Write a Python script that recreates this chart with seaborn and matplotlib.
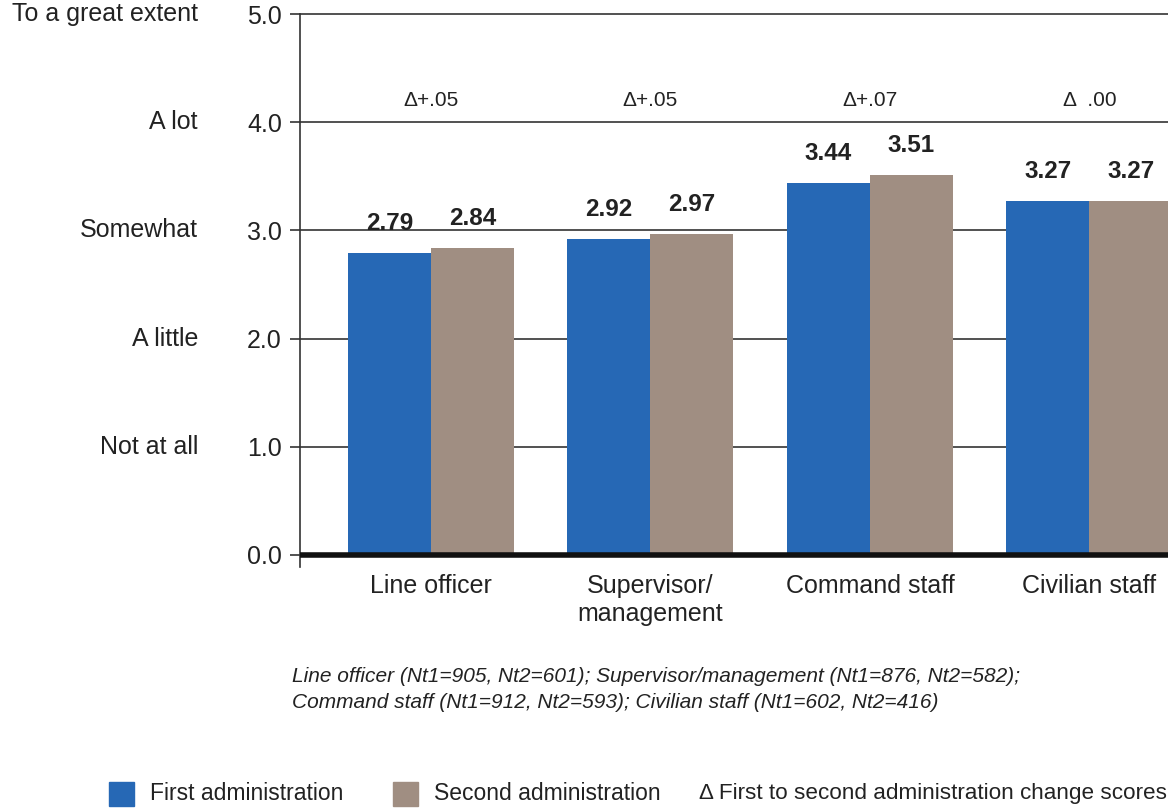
import matplotlib
matplotlib.use("Agg")
import matplotlib.pyplot as plt
import matplotlib.transforms as mtransforms
from matplotlib.patches import Rectangle
import seaborn as sns
import pandas as pd

# Survey scores by staff group, two administrations
groups = ["Line officer", "Supervisor/\nmanagement", "Command staff", "Civilian staff"]
first_admin = [2.79, 2.92, 3.44, 3.27]
second_admin = [2.84, 2.97, 3.51, 3.27]
change_labels = ["\u0394+.05", "\u0394+.05", "\u0394+.07", "\u0394  .00"]
y_ticks = [0.0, 1.0, 2.0, 3.0, 4.0, 5.0]
level_names = ["Not at all", "A little", "Somewhat", "A lot", "To a great extent"]
level_values = [1.0, 2.0, 3.0, 4.0, 5.0]
series_names = ["First administration", "Second administration"]
colors = ["#2668B5", "#A08E82"]
note_lines = [
    "Line officer (Nt1=905, Nt2=601); Supervisor/management (Nt1=876, Nt2=582);",
    "Command staff (Nt1=912, Nt2=593); Civilian staff (Nt1=602, Nt2=416)",
]
delta_note = "\u0394 First to second administration change scores"

df = pd.DataFrame({
    "group": groups * 2,
    "admin": [series_names[0]] * 4 + [series_names[1]] * 4,
    "score": first_admin + second_admin,
})

sns.set_theme(style="white")
plt.rcParams["font.family"] = ["Liberation Sans", "DejaVu Sans"]
TXT = "#222222"

fig = plt.figure(figsize=(11.68, 8.10), dpi=100)
ax = fig.add_axes([0.2568, 0.30, 0.7432, 0.6827])

sns.barplot(data=df, x="group", y="score", hue="admin", order=groups,
            hue_order=series_names, palette=colors, width=0.756,
            saturation=1, legend=False, linewidth=0, ax=ax)

ax.set_xlim(-0.597, 3.358)
ax.set_ylim(-0.111, 5.0)

# horizontal rules behind the bars, heavy baseline at zero
for v in y_ticks[1:]:
    ax.axhline(v, color="#333333", lw=1.2, zorder=0.5, clip_on=False)
ax.axhline(0, color="#111111", lw=4, zorder=3)

for s in ["top", "right", "bottom"]:
    ax.spines[s].set_visible(False)
ax.spines["left"].set_color("#333333")
ax.spines["left"].set_linewidth(1.2)

ax.set_yticks(y_ticks)
ax.set_yticklabels([f"{v:.1f}" for v in y_ticks])
ax.tick_params(axis="y", direction="out", length=7, width=1.2, color="#333333",
               pad=6, labelsize=18, labelcolor=TXT, left=True)
ax.tick_params(axis="x", length=0, pad=5, labelsize=18, labelcolor=TXT)
ax.set_xlabel("")
ax.set_ylabel("")

# value labels above bars
for cont in ax.containers:
    ax.bar_label(cont, fmt="%.2f", padding=13, fontsize=17.5, fontweight="bold",
                 color=TXT)

# change scores
for i, lab in enumerate(change_labels):
    ax.text(i, 4.2, lab, ha="center", va="center", fontsize=15, color=TXT)

# response scale names
trans = mtransforms.blended_transform_factory(fig.transFigure, ax.transData)
for name, v in zip(level_names, level_values):
    ax.text(0.1695, v, name, transform=trans, ha="right", va="center",
            fontsize=18, color=TXT)

# sample sizes
for line, ypix in zip(note_lines, [676, 703]):
    fig.text(0.25, 1 - ypix / 810, line, ha="left", va="center", fontsize=15,
             style="italic", color=TXT)

# legend
leg_y = 1 - 794 / 810
sq_w, sq_h = 25 / 1168, 24 / 810
for x0, c in [(109, colors[0]), (393, colors[1])]:
    fig.patches.append(Rectangle((x0 / 1168, leg_y - sq_h / 2), sq_w, sq_h,
                                 transform=fig.transFigure, color=c))
fig.text(150 / 1168, leg_y, series_names[0], ha="left", va="center",
         fontsize=16.5, color=TXT)
fig.text(434 / 1168, leg_y, series_names[1], ha="left", va="center",
         fontsize=16.5, color=TXT)
fig.text(699 / 1168, leg_y, delta_note, ha="left", va="center",
         fontsize=16.2, color=TXT)

fig.savefig("out.png", dpi=100)
